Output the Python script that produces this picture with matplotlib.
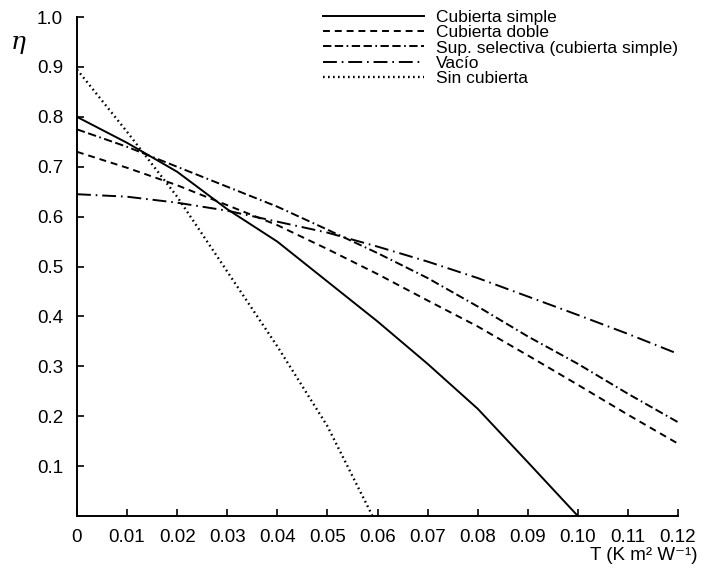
import numpy as np
import matplotlib
matplotlib.use("Agg")
import matplotlib.pyplot as plt

plt.rcParams['font.family'] = ['Liberation Sans', 'DejaVu Sans']
plt.rcParams['lines.scale_dashes'] = False
plt.rcParams['mathtext.fontset'] = 'dejavuserif'

# valores
t_std = [0, 0.01, 0.02, 0.03, 0.04, 0.05, 0.06, 0.07, 0.08, 0.09, 0.10, 0.11, 0.12]
eta_doble = [0.73, 0.698, 0.663, 0.623, 0.583, 0.535, 0.485, 0.432, 0.38, 0.322, 0.263, 0.203, 0.145]
eta_selectiva = [0.775, 0.74, 0.70, 0.66, 0.62, 0.574, 0.527, 0.477, 0.42, 0.36, 0.305, 0.245, 0.188]
eta_vacio = [0.645, 0.64, 0.628, 0.612, 0.59, 0.568, 0.54, 0.51, 0.477, 0.44, 0.403, 0.365, 0.325]

t_simple = [0, 0.01, 0.02, 0.03, 0.04, 0.05, 0.06, 0.07, 0.08, 0.09, 0.10]
eta_simple = [0.80, 0.748, 0.69, 0.615, 0.55, 0.47, 0.39, 0.305, 0.215, 0.108, 0.0]

t_sin = [0, 0.01, 0.02, 0.03, 0.04, 0.05, 0.059]
eta_sin = [0.895, 0.77, 0.64, 0.49, 0.34, 0.18, 0.0]

fig = plt.figure(figsize=(7.16, 5.70), dpi=100)
ax = fig.add_axes([0.1075, 0.0947, 0.8395, 0.8753])

k = dict(color='black', lw=1.4)
ax.plot(t_simple, eta_simple, ls='-', label='Cubierta simple', **k)
ax.plot(t_std, eta_doble, ls=(0, (5, 3.5)), label='Cubierta doble', **k)
ax.plot(t_std, eta_selectiva, ls=(0, (6, 2.5, 6, 2.5, 1.2, 2.5)),
        label='Sup. selectiva (cubierta simple)', **k)
ax.plot(t_std, eta_vacio, ls=(0, (10, 3.5, 1.2, 3.5)), label='Vacío', **k)
ax.plot(t_sin, eta_sin, ls=(0, (1.2, 2.4)), color='black', lw=1.7,
        label='Sin cubierta')

ax.set_xlim(0, 0.12)
ax.set_ylim(0, 1.0)
ax.set_xticks(np.arange(0, 0.121, 0.01))
ax.set_xticklabels(['0'] + ['%.2f' % v for v in np.arange(0.01, 0.121, 0.01)])
ax.set_yticks(np.arange(0.1, 1.01, 0.1))
ax.set_yticklabels(['%.1f' % v for v in np.arange(0.1, 1.01, 0.1)])
ax.tick_params(direction='in', length=5, width=1.2, labelsize=13.5)
ax.tick_params(axis='x', pad=9)
ax.tick_params(axis='y', pad=10)

for s in ['top', 'right']:
    ax.spines[s].set_visible(False)
for s in ['left', 'bottom']:
    ax.spines[s].set_linewidth(1.4)

fig.text(18 / 716, 1 - 44 / 570, r'$\eta$', fontsize=18, ha='center', va='center')
fig.text(698 / 716, 1 - 556 / 570, 'T (K m² W⁻¹)', fontsize=13.5,
         ha='right', va='center')

ax.legend(loc='upper left', bbox_to_anchor=(0.398, 1.028), frameon=False,
          fontsize=12.5, handlelength=5.8, handletextpad=0.68,
          labelspacing=0.0, borderaxespad=0)

fig.savefig('out.png', dpi=100)
